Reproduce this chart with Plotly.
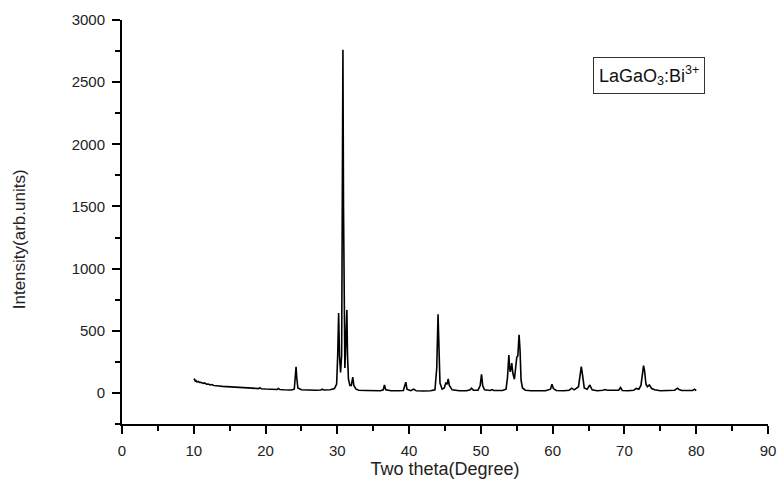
import plotly.graph_objects as go

# XRD pattern
two_theta = [
    10.0, 10.1, 10.2, 10.3, 10.45, 10.6, 10.8, 11.0, 11.3, 11.5, 11.8, 12.0, 12.3, 12.5, 12.8,
    13.0, 13.5, 14.0, 14.5, 15.0, 15.5, 16.0, 16.5, 17.0, 17.5, 18.0, 18.5, 19.0, 19.2, 19.4,
    20.0, 20.5, 21.0, 21.6, 21.8, 22.0, 22.5, 23.0, 23.6, 24.0, 24.15, 24.25, 24.35, 24.5,
    25.0, 26.0, 27.0, 27.7, 27.9, 28.1, 29.0, 29.6, 29.9, 30.05, 30.18, 30.3, 30.45, 30.6,
    30.72, 30.78, 30.86, 30.98, 31.05, 31.15, 31.28, 31.33, 31.42, 31.55, 31.75, 31.95,
    32.15, 32.3, 32.6, 33.0, 34.0, 35.0, 36.0, 36.4, 36.56, 36.75, 37.5, 38.5, 39.2, 39.4,
    39.54, 39.7, 40.2, 40.64, 41.0, 42.0, 43.0, 43.6, 43.85, 44.03, 44.15, 44.3, 44.6, 44.9,
    45.13, 45.3, 45.45, 45.6, 46.0, 47.0, 48.0, 48.5, 48.7, 48.95, 49.6, 49.9, 50.09, 50.25,
    50.5, 51.3, 51.56, 51.8, 53.0, 53.5, 53.7, 53.9, 54.0, 54.1, 54.3, 54.45, 54.67, 54.85,
    55.0, 55.15, 55.32, 55.45, 55.6, 55.8, 56.2, 57.0, 58.0, 59.0, 59.7, 59.9, 60.1, 60.5,
    61.5, 62.3, 62.66, 63.0, 63.6, 63.85, 63.99, 64.15, 64.4, 64.8, 65.18, 65.5, 66.2, 67.0,
    67.3, 67.6, 68.2, 68.5, 69.2, 69.45, 69.7, 70.5, 71.3, 71.65, 72.0, 72.3, 72.55, 72.66,
    72.8, 73.0, 73.2, 73.48, 73.8, 74.2, 75.0, 75.8, 76.5, 77.0, 77.38, 77.6, 78.0, 79.0,
    79.5, 79.77, 80.0,
]
intensity = [
    105, 110, 96, 100, 88, 93, 84, 86, 76, 80, 70, 72, 64, 67, 60,
    60, 56, 53, 51, 48, 47, 45, 42, 41, 38, 38, 36, 35, 42, 33,
    31, 30, 29, 28, 36, 27, 25, 24, 24, 30, 120, 210, 120, 40,
    25, 22, 22, 24, 30, 23, 25, 35, 70, 300, 643, 300, 165, 300,
    1800, 2760, 1500, 300, 200, 350, 640, 668, 300, 110, 60, 60,
    128, 60, 30, 22, 20, 18, 18, 25, 64, 25, 18, 18, 20, 60,
    86, 30, 18, 30, 17, 16, 17, 25, 200, 633, 450, 80, 30, 40,
    83, 70, 113, 60, 25, 18, 18, 25, 38, 22, 22, 60, 150, 60,
    25, 20, 27, 20, 20, 30, 120, 305, 200, 170, 239, 160, 110, 200,
    287, 300, 467, 350, 100, 40, 22, 18, 18, 18, 30, 70, 35, 20,
    18, 22, 38, 25, 50, 150, 212, 150, 40, 30, 64, 25, 18, 22,
    27, 22, 24, 22, 22, 43, 20, 18, 22, 36, 30, 60, 190, 220,
    180, 70, 50, 64, 35, 25, 18, 18, 20, 22, 38, 28, 20, 18,
    20, 30, 18,
]

x_ticks = [0, 10, 20, 30, 40, 50, 60, 70, 80, 90]
y_ticks = [0, 500, 1000, 1500, 2000, 2500, 3000]

FONT = "Liberation Sans, Arial, sans-serif"

fig = go.Figure()
fig.add_trace(go.Scatter(
    x=two_theta, y=intensity, mode="lines",
    line=dict(color="black", width=1.6),
    showlegend=False, hoverinfo="skip",
))

axis_common = dict(
    showline=True, linecolor="black", linewidth=2,
    ticks="outside", ticklen=8, tickwidth=2, tickcolor="black",
    showgrid=False, zeroline=False, mirror=False,
    tickfont=dict(family=FONT, size=15, color="#222"),
    ticklabeloverflow="allow",
)

fig.update_xaxes(
    range=[0, 90], tickvals=x_ticks, ticklabelstandoff=4,
    minor=dict(dtick=5, ticks="outside", ticklen=5, tickwidth=2, tickcolor="black", showgrid=False),
    title=dict(text="Two theta(Degree)", font=dict(family=FONT, size=18, color="#222"), standoff=4),
    **axis_common,
)
fig.update_yaxes(
    range=[-250, 3000], tickvals=y_ticks, ticklabelstandoff=4,
    minor=dict(dtick=250, ticks="outside", ticklen=5, tickwidth=2, tickcolor="black", showgrid=False),
    **axis_common,
)

W, H = 784, 486
L, R, T, B = 122, 8, 20, 62


def px(xp, yp):
    return (xp - L) / (W - L - R), 1 - (yp - T) / (H - T - B)


ax, ay = px(18, 239)
fig.add_annotation(
    x=ax, y=ay, xref="paper", yref="paper", text="Intensity(arb.units)",
    textangle=-90, showarrow=False, xanchor="center", yanchor="middle",
    font=dict(family=FONT, size=17, color="#222"),
)
bx, by = px(712, 57)
fig.add_annotation(
    x=bx, y=by, xref="paper", yref="paper",
    text="LaGaO<sub>3</sub>:Bi<sup>3+</sup>",
    showarrow=False, xanchor="right", yanchor="top",
    bordercolor="#333", borderwidth=1, borderpad=5,
    font=dict(family=FONT, size=18, color="#111"),
)

fig.update_layout(
    width=W, height=H,
    margin=dict(l=L, r=R, t=T, b=B),
    paper_bgcolor="white", plot_bgcolor="white",
)

fig.write_html("out.html")
